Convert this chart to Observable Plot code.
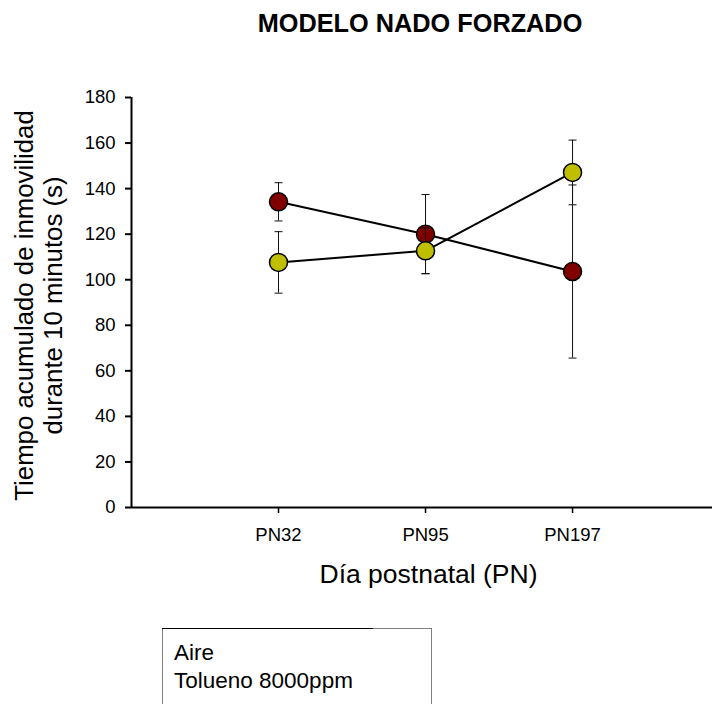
<!DOCTYPE html>
<html><head><meta charset="utf-8">
<script src="https://cdn.jsdelivr.net/npm/d3@7"></script>
<script src="https://cdn.jsdelivr.net/npm/@observablehq/plot@0.6"></script>
<style>
html,body{margin:0;padding:0;background:#fff;overflow:hidden}
#wrap{position:relative;width:712px;height:704px;overflow:hidden;font-family:"Liberation Sans",Arial,sans-serif;color:#000}
#chart{position:absolute;left:0;top:0}
#title{position:absolute;left:220px;width:400px;top:11px;text-align:center;font-weight:bold;font-size:25.3px;line-height:25px}
#legend{position:absolute;left:162px;top:628px;width:270px;height:100px;border:1px solid #808080;padding:9.5px 0 0 11px;box-sizing:border-box;font-size:22.5px;line-height:28px}
#legend .topline{position:absolute;left:-1px;top:-1px;width:211px;height:1px;background:#000}
</style>
</head><body>
<div id="wrap">
  <div id="chart"></div>
  <div id="title"></div>
  <div id="legend"><div class="topline"></div></div>
</div>
<script>
const titleText = "MODELO NADO FORZADO";
const yLabel = "Tiempo acumulado de inmovilidad\ndurante 10 minutos (s)";
const xLabel = "Día postnatal (PN)";
const categories = ["PN32", "PN95", "PN197"];
const seriesNames = ["Aire", "Tolueno 8000ppm"];
const aire = [134.2, 120.0, 103.6];
const aireErr = [8.4, 17.4, 38.0];
const tolueno = [107.6, 112.7, 147.1];
const toluenoErr = [13.5, 10.0, 14.2];
const yTicks = [0, 20, 40, 60, 80, 100, 120, 140, 160, 180];
const colors = ["#800000", "#BFBF00"];

const rows = (vals, errs, name) => vals.map((v, i) => ({
  x: i + 1, cat: categories[i], y: v, lo: v - errs[i], hi: v + errs[i], serie: name
}));
const dAire = rows(aire, aireErr, seriesNames[0]);
const dTol = rows(tolueno, toluenoErr, seriesNames[1]);

const cap = {draw(ctx) { ctx.moveTo(-4, 0); ctx.lineTo(4, 0); }};

function seriesMarks(d, color) {
  return [
    Plot.ruleX(d, {x: "x", y1: "lo", y2: "hi", stroke: "#111", strokeWidth: 1}),
    Plot.dot(d, {x: "x", y: "lo", symbol: cap, r: 4, fill: "none", stroke: "#111", strokeWidth: 1}),
    Plot.dot(d, {x: "x", y: "hi", symbol: cap, r: 4, fill: "none", stroke: "#111", strokeWidth: 1}),
    Plot.line(d, {x: "x", y: "y", stroke: "#000", strokeWidth: 2}),
    Plot.dot(d, {x: "x", y: "y", r: 9, fill: color, stroke: "#000", strokeWidth: 1.5})
  ];
}

const chart = Plot.plot({
  width: 712,
  height: 600,
  marginLeft: 131,
  marginRight: 0,
  marginTop: 97,
  marginBottom: 93,
  style: {fontFamily: "Liberation Sans, Arial, sans-serif", background: "transparent", overflow: "visible", color: "#000"},
  x: {type: "linear", domain: [0, 3.952]},
  y: {type: "linear", domain: [0, 180]},
  marks: [
    Plot.axisY({ticks: yTicks, tickSize: 6, tickPadding: 10, fontSize: 18.5, strokeWidth: 2, label: null}),
    Plot.axisX({ticks: [1, 2, 3], tickFormat: i => categories[i - 1], tickSize: 6, tickPadding: 14, fontSize: 18.5, strokeWidth: 1.5, label: null}),
    Plot.ruleX([0], {stroke: "#000", strokeWidth: 2}),
    Plot.ruleY([0], {stroke: "#000", strokeWidth: 2}),
    ...seriesMarks(dAire, colors[0]),
    ...seriesMarks(dTol, colors[1]),
    Plot.text([yLabel], {text: d => d, frameAnchor: "left", rotate: -90, dx: -93.5, dy: 3, fontSize: 25.8, lineHeight: 1.13, textAnchor: "middle", lineAnchor: "middle", fill: "#000"}),
    Plot.text([xLabel], {text: d => d, frameAnchor: "bottom", dx: 6.5, dy: 67.5, fontSize: 26.5, textAnchor: "middle", lineAnchor: "middle", fill: "#000"})
  ]
});
document.getElementById("chart").appendChild(chart);
document.getElementById("title").textContent = titleText;
const legend = document.getElementById("legend");
seriesNames.forEach(n => { const div = document.createElement("div"); div.textContent = n; legend.appendChild(div); });
</script>
</body></html>
